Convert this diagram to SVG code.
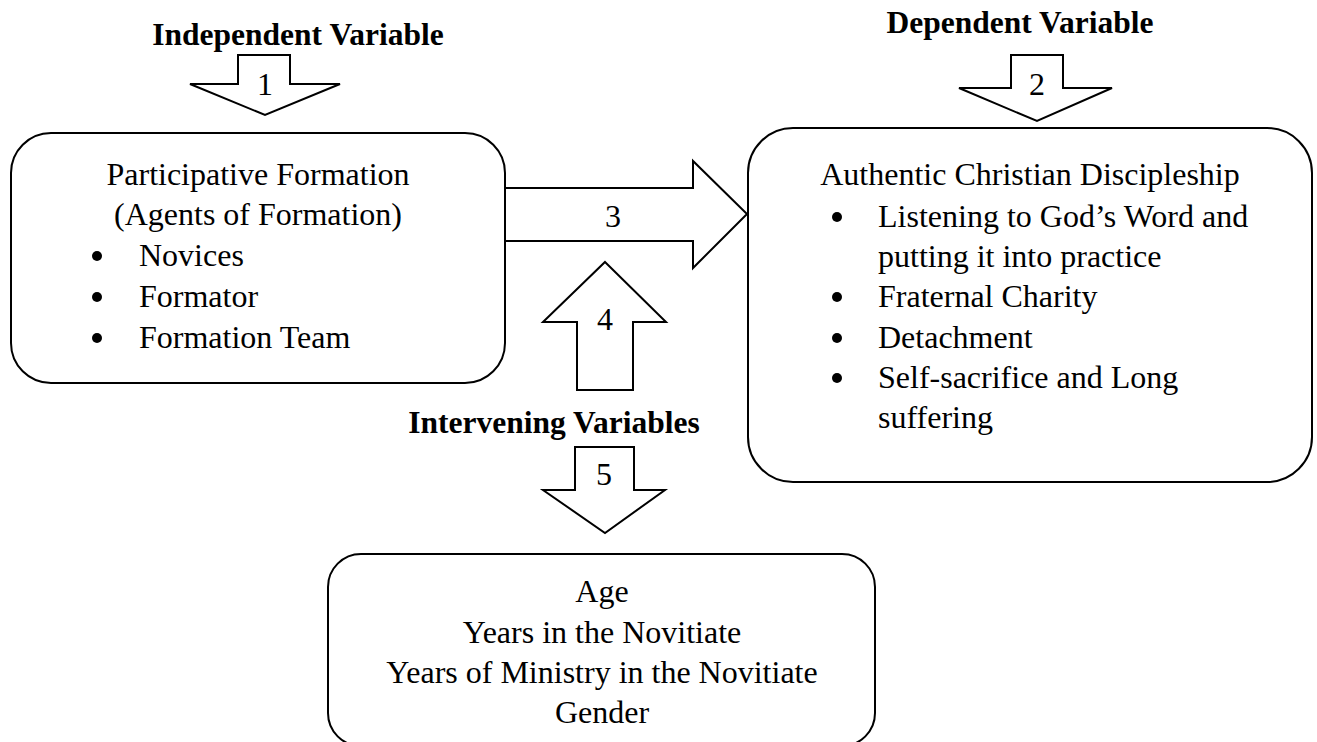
<svg xmlns="http://www.w3.org/2000/svg" width="1317" height="742" viewBox="0 0 1317 742">
<style>
text { font-family: "Liberation Serif", "Times New Roman", serif; font-size: 32px; fill: #000; }
.h { font-weight: bold; font-size: 31.5px; text-anchor: middle; }
.c { text-anchor: middle; }
.box { fill: #fff; stroke: #000; stroke-width: 2; }
.arr { fill: #fff; stroke: #000; stroke-width: 2; stroke-linejoin: miter; }
.dot { fill: #000; }
</style>
<rect width="1317" height="742" fill="#fff"/>
<g id="connectors">
  <polygon class="arr" points="238,55 290,55 290,84 340,84 265,115 190,84 238,84"/>
  <polygon class="arr" points="1011,55 1063,55 1063,88 1112,88 1037,121 959,88 1011,88"/>
  <polygon class="arr" points="505,188 693,188 693,161 747,214 693,268 693,241 505,241"/>
  <polygon class="arr" points="605,262 666,322 633,322 633,390 577,390 577,322 543,322"/>
  <polygon class="arr" points="575,447 634,447 634,490 665,490 605,533 543,490 575,490"/>
  <text class="c" x="265" y="95">1</text>
  <text class="c" x="1037" y="95">2</text>
  <text class="c" x="613" y="227">3</text>
  <text class="c" x="605" y="330">4</text>
  <text class="c" x="604" y="485">5</text>
</g>
<g id="label-independent">
  <text class="h" x="298" y="45">Independent Variable</text>
</g>
<g id="label-dependent">
  <text class="h" x="1020" y="33">Dependent Variable</text>
</g>
<g id="label-intervening">
  <text class="h" x="554" y="433">Intervening Variables</text>
</g>
<g id="node-participative">
  <rect class="box" x="11" y="133" width="494" height="250" rx="40" ry="40"/>
  <text class="c" x="258" y="185">Participative Formation</text>
  <text class="c" x="258" y="225">(Agents of Formation)</text>
  <circle class="dot" cx="97" cy="256" r="5"/>
  <text x="139" y="266">Novices</text>
  <circle class="dot" cx="97" cy="297" r="5"/>
  <text x="139" y="307">Formator</text>
  <circle class="dot" cx="97" cy="338" r="5"/>
  <text x="139" y="348">Formation Team</text>
</g>
<g id="node-discipleship">
  <rect class="box" x="748" y="128" width="564" height="354" rx="45" ry="45"/>
  <text class="c" x="1030" y="185">Authentic Christian Discipleship</text>
  <circle class="dot" cx="837" cy="217" r="5"/>
  <text x="878" y="227">Listening to God’s Word and</text>
  <text x="878" y="267">putting it into practice</text>
  <circle class="dot" cx="837" cy="297" r="5"/>
  <text x="878" y="307">Fraternal Charity</text>
  <circle class="dot" cx="837" cy="338" r="5"/>
  <text x="878" y="348">Detachment</text>
  <circle class="dot" cx="837" cy="378" r="5"/>
  <text x="878" y="388">Self-sacrifice and Long</text>
  <text x="878" y="428">suffering</text>
</g>
<g id="node-intervening">
  <rect class="box" x="328" y="554" width="547" height="192" rx="33" ry="33"/>
  <text class="c" x="602" y="602">Age</text>
  <text class="c" x="602" y="643">Years in the Novitiate</text>
  <text class="c" x="602" y="683">Years of Ministry in the Novitiate</text>
  <text class="c" x="602" y="723">Gender</text>
</g>
</svg>
